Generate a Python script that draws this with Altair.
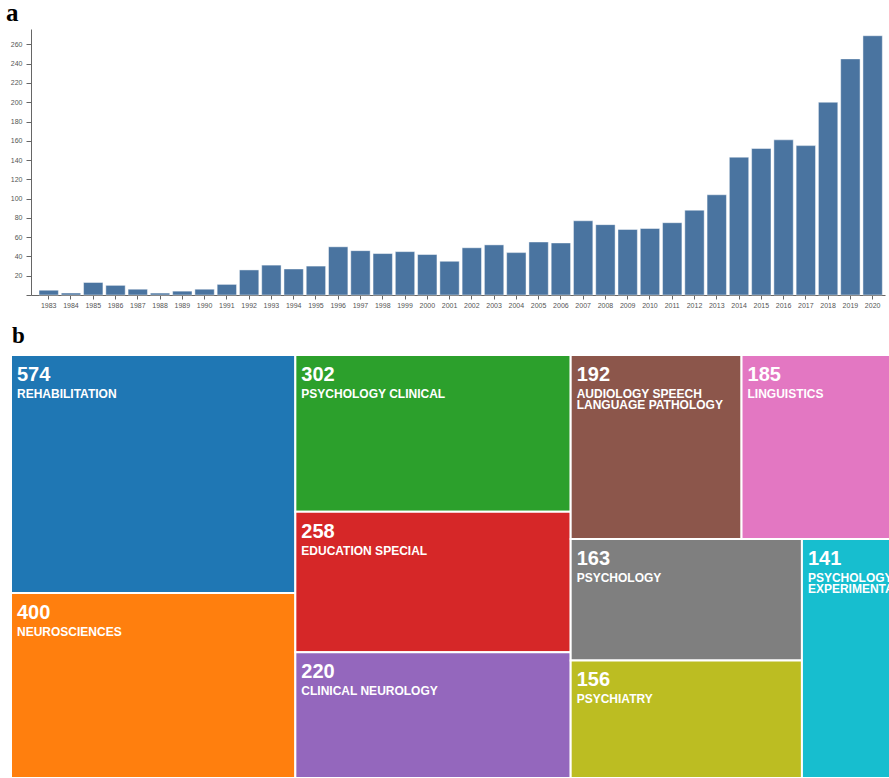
import altair as alt
import pandas as pd

# ---------------- data ----------------
years = list(range(1983, 2021))
counts = [5, 2, 13, 10, 6, 2, 4, 6, 11,
          26, 31, 27, 30,
          50, 46, 43, 45, 42, 35,
          49, 52, 44, 55, 54,
          77, 73, 68, 69, 75,
          88, 104, 143, 152, 161, 155,
          200, 245, 269]

cats = ["REHABILITATION", "NEUROSCIENCES", "PSYCHOLOGY CLINICAL",
        "EDUCATION SPECIAL", "CLINICAL NEUROLOGY",
        "AUDIOLOGY SPEECH LANGUAGE PATHOLOGY", "LINGUISTICS",
        "PSYCHOLOGY", "PSYCHIATRY", "PSYCHOLOGY EXPERIMENTAL"]
cat_counts = [574, 400, 302, 258, 220, 192, 185, 163, 156, 141]

palette = ["#1f77b4", "#ff7f0e", "#2ca02c", "#d62728", "#9467bd",
           "#8c564b", "#e377c2", "#7f7f7f", "#bcbd22", "#17becf"]

# ---------------- treemap layout (d3-style squarify) ----------------
PHI = (1 + 5 ** 0.5) / 2
SIZE_EXP = 0.7          # cell area ~ count ** SIZE_EXP
TM_W, TM_H = 897.0, 423.0


def squarify(values, x0, y0, x1, y1, ratio=PHI):
    n = len(values)
    out = [None] * n
    i0 = i1 = 0
    value = float(sum(values))
    while i0 < n:
        dx, dy = x1 - x0, y1 - y0
        sum_v = values[i1]
        i1 += 1
        min_v = max_v = sum_v
        alpha = max(dy / dx, dx / dy) / (value * ratio)
        beta = sum_v * sum_v * alpha
        min_ratio = max(max_v / beta, beta / min_v)
        while i1 < n:
            nv = values[i1]
            s = sum_v + nv
            mn, mx = min(min_v, nv), max(max_v, nv)
            beta = s * s * alpha
            new_ratio = max(mx / beta, beta / mn)
            if new_ratio > min_ratio:
                break
            sum_v, min_v, max_v, min_ratio = s, mn, mx, new_ratio
            i1 += 1
        row = range(i0, i1)
        if dx < dy:
            ny = y0 + dy * sum_v / value
            cx = x0
            for k in row:
                w = dx * values[k] / sum_v
                out[k] = (cx, y0, cx + w, ny)
                cx += w
            y0 = ny
        else:
            nx = x0 + dx * sum_v / value
            cy = y0
            for k in row:
                h = dy * values[k] / sum_v
                out[k] = (x0, cy, nx, cy + h)
                cy += h
            x0 = nx
        value -= sum_v
        i0 = i1
    return out


def wrap(text, width, char_w=7.6):
    lines, cur = [], ""
    for w in text.split():
        cand = (cur + " " + w).strip()
        if cur and len(cand) * char_w > width:
            lines.append(cur)
            cur = w
        else:
            cur = cand
    lines.append(cur)
    return "\n".join(lines)


weights = [c ** SIZE_EXP for c in cat_counts]
cells = squarify(weights, 0.0, 0.0, TM_W, TM_H)

tm_df = pd.DataFrame({
    "name": cats,
    "count": cat_counts,
    "x0": [c[0] for c in cells],
    "y0": [c[1] for c in cells],
    "x1": [c[2] for c in cells],
    "y1": [c[3] for c in cells],
})
tm_df["label"] = [wrap(n, (c[2] - c[0]) - 12) for n, c in zip(cats, cells)]

bar_df = pd.DataFrame({"year": [str(y) for y in years], "count": counts})

# ---------------- layout constants ----------------
PAD_L, PAD_T, PAD_R, PAD_B = 31, 29, 4, 483
PLOT_W, PLOT_H = 854, 266
TM_X0, TM_Y0 = 11 - PAD_L, 355 - PAD_T

AX_FONT = "Liberation Sans Narrow, Liberation Sans, Arial, sans-serif"
LBL_FONT = "Liberation Sans, Arial, sans-serif"

# ---------------- bar chart ----------------
bars = alt.Chart(bar_df).mark_bar(
    color="#4a74a0", stroke="white", strokeOpacity=0.45, strokeWidth=1
).encode(
    x=alt.X("year:O", title=None,
            scale=alt.Scale(paddingInner=0.13, paddingOuter=0.24, align=0.75),
            axis=alt.Axis(labelAngle=0, tickSize=4, labelPadding=2,
                          labelOverlap=False, domainColor="#666", tickColor="#666",
                          labelColor="#555", labelFontSize=7, labelFont=AX_FONT)),
    y=alt.Y("count:Q", title=None,
            scale=alt.Scale(domain=[0, 276], nice=False),
            axis=alt.Axis(values=list(range(0, 261, 20)),
                          labelExpr="datum.value == 0 ? '' : datum.label",
                          grid=False, tickSize=5, labelPadding=4,
                          domainColor="#666", tickColor="#666",
                          labelColor="#555", labelFontSize=7, labelFont=AX_FONT)),
)

# ---------------- treemap ----------------
xs = alt.Scale(domain=[0, TM_W], range=[TM_X0, TM_X0 + TM_W], nice=False, zero=False)
ys = alt.Scale(domain=[0, TM_H], range=[TM_Y0, TM_Y0 + TM_H], nice=False, zero=False)

tm_base = alt.Chart(tm_df)
rects = tm_base.mark_rect(stroke="white", strokeWidth=2).encode(
    x=alt.X("x0:Q", scale=xs, axis=None),
    x2="x1:Q",
    y=alt.Y("y0:Q", scale=ys, axis=None),
    y2="y1:Q",
    color=alt.Color("name:N", scale=alt.Scale(domain=cats, range=palette), legend=None),
)
nums = tm_base.mark_text(
    align="left", baseline="alphabetic", dx=6, dy=26,
    fontSize=20, fontWeight="bold", font=LBL_FONT, color="white"
).encode(
    x=alt.X("x0:Q", scale=xs, axis=None),
    y=alt.Y("y0:Q", scale=ys, axis=None),
    text=alt.Text("count:Q"),
)
names = tm_base.mark_text(
    align="left", baseline="alphabetic", dx=6, dy=43,
    fontSize=12, fontWeight="bold", font=LBL_FONT, color="white",
    lineBreak="\n", lineHeight=11
).encode(
    x=alt.X("x0:Q", scale=xs, axis=None),
    y=alt.Y("y0:Q", scale=ys, axis=None),
    text=alt.Text("label:N"),
)
treemap = alt.layer(rects, nums, names)

# ---------------- panel letters ----------------
panel_a = alt.Chart(pd.DataFrame({"t": ["a"]})).mark_text(
    align="left", baseline="alphabetic", font="Liberation Serif",
    fontWeight="bold", fontSize=25, color="black"
).encode(text="t:N", x=alt.value(6 - PAD_L), y=alt.value(20.5 - PAD_T))

panel_b = alt.Chart(pd.DataFrame({"t": ["b"]})).mark_text(
    align="left", baseline="alphabetic", font="Liberation Serif",
    fontWeight="bold", fontSize=23, color="black"
).encode(text="t:N", x=alt.value(12 - PAD_L), y=alt.value(342.7 - PAD_T))

chart = alt.layer(bars, treemap, panel_a, panel_b).resolve_scale(
    x="independent", y="independent"
).properties(
    width=PLOT_W, height=PLOT_H,
    padding={"left": PAD_L, "top": PAD_T, "right": PAD_R, "bottom": PAD_B},
    autosize=alt.AutoSizeParams(type="none"),
    background="white",
).configure_view(strokeWidth=0)

chart.save("out.html", embed_options={"renderer": "svg", "actions": False})
